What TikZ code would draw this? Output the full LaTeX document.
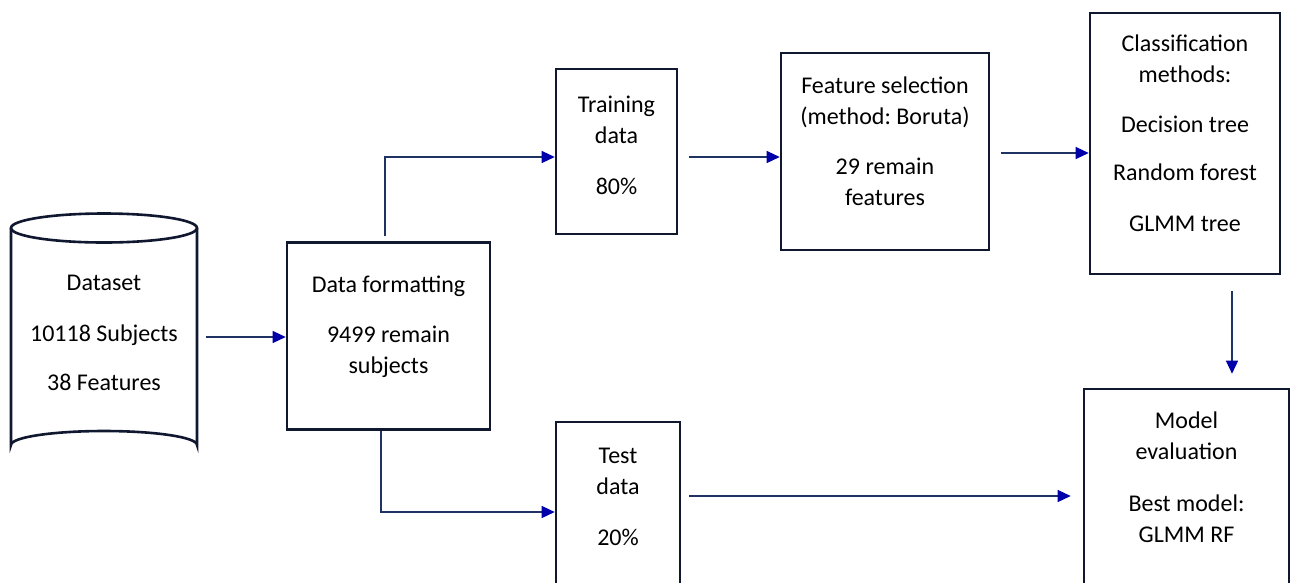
\documentclass[tikz,border=0pt]{standalone}
\usepackage{fontspec}
\setmainfont{Carlito}
\frenchspacing
\usetikzlibrary{arrows.meta}
\definecolor{boxline}{RGB}{16,24,48}
\definecolor{arrline}{RGB}{30,50,100}
\definecolor{tipblue}{RGB}{0,0,170}
\tikzset{
  box/.style={draw=boxline, line width=2.6pt, inner sep=0pt, fill=white},
  txt/.style={align=center, font=\fontsize{24}{31}\selectfont, inner sep=0pt, text=black},
  conn/.style={draw=arrline, line width=1.3pt, -{Triangle[length=13pt,width=12pt,color=tipblue]}},
}
\begin{document}
\begin{tikzpicture}[x=1pt,y=-1pt]
\useasboundingbox (0,0) rectangle (1295,582);
\clip (0,0) rectangle (1295,582);
\fill[white] (0,0) rectangle (1295,582);
% cylinder
\draw[boxline, line width=2.6pt] (11,228) -- (11,445) arc[start angle=180, end angle=360, x radius=93, y radius=14] -- (197,228);
\draw[boxline, line width=2.6pt] (104,228) ellipse[x radius=93, y radius=14.5];
\node[inner sep=0pt, minimum width=186pt, minimum height=231pt] (ds) at (104,336) {};
\node[txt] (dst) at (104,333) {Dataset\\[20pt]10118 Subjects\\[18pt]38 Features};
% boxes
\node[box, minimum width=203pt, minimum height=187pt] (fmt) at (388.5,336) {};
\node[txt] (fmtt) at (388.5,327) {Data formatting\\[19pt]9499 remain\\subjects};
\node[box, minimum width=121pt, minimum height=165pt] (train) at (616.5,151.5) {};
\node[txt] (traint) at (616.5,145) {Training\\data\\[20pt]80\%};
\node[box, minimum width=124pt, minimum height=220pt] (test) at (618,532) {};
\node[txt] (testt) at (618,497) {Test\\data\\[20pt]20\%};
\node[box, minimum width=208pt, minimum height=197pt] (fs) at (885,151.5) {};
\node[txt] (fst) at (885,141.5) {Feature selection\\(method: Boruta)\\[19pt]29 remain\\features};
\node[box, minimum width=190pt, minimum height=261pt] (cls) at (1185,143.5) {};
\node[txt] (clst) at (1185,133) {Classification\\methods:\\[19pt]Decision tree\\[17pt]Random forest\\[20pt]GLMM tree};
\node[box, minimum width=205pt, minimum height=230pt] (me) at (1186.5,504) {};
\node[txt] (met) at (1186.5,477) {Model\\evaluation\\[21pt]Best model:\\GLMM RF};
% connectors
\draw[conn, shorten <=9pt] (ds.east |- 0,337) -- (fmt.west |- 0,337);
\draw[conn, shorten <=5pt] (fmt.north -| 385,0) |- (train.west |- 0,157);
\draw[conn] (fmt.south -| 381,0) |- (test.west |- 0,512);
\draw[conn, shorten <=11pt] (train.east |- 0,157) -- (fs.west |- 0,157);
\draw[conn, shorten <=11pt] (fs.east |- 0,153) -- (cls.west |- 0,153);
\draw[conn, shorten <=16pt, shorten >=14pt] (cls.south -| 1232,0) -- (me.north -| 1232,0);
\draw[conn, shorten <=8pt, shorten >=12pt] (test.east |- 0,496) -- (me.west |- 0,496);
\end{tikzpicture}
\end{document}
